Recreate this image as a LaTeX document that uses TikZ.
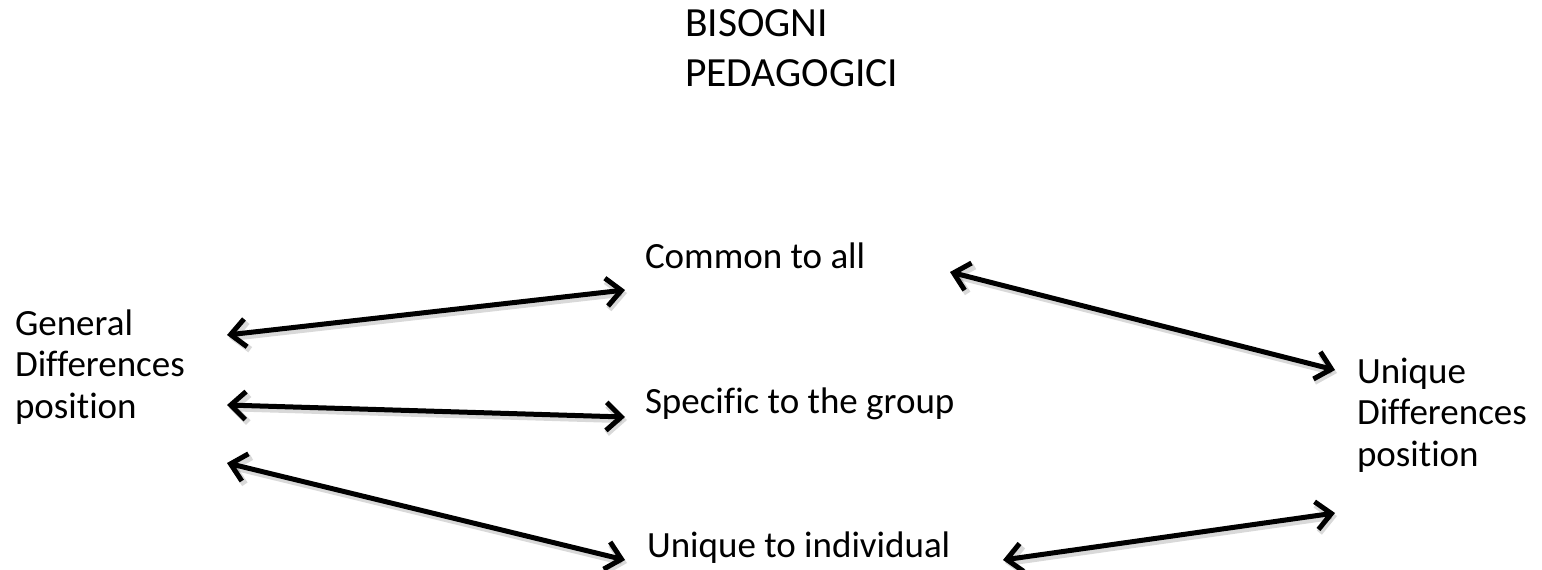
\documentclass[tikz,border=0pt]{standalone}
\usepackage{fontspec}
\setmainfont{Carlito}[Ligatures=NoCommon]
\usetikzlibrary{arrows.meta}
\tikzset{
  lbl/.style={anchor=base west, inner sep=0pt, outer sep=0pt, align=left,
    font=\fontsize{37}{41.5}\selectfont},
  ttl/.style={lbl, font=\fontsize{41.5}{50}\selectfont},
  link/.style={line width=5pt, line cap=round, line join=round,
    {Straight Barb[length=15pt,width=28pt]}-{Straight Barb[length=15pt,width=28pt]}},
  shade/.style={link, draw=black, opacity=0.15, line width=6.5pt}
}
\begin{document}
\begin{tikzpicture}[x=1pt,y=-1pt]
\useasboundingbox (0,0) rectangle (1542,570);
% texts (anchored at the baseline of their last line)
\node[ttl] (title) at (685,86.5) {BISOGNI\\PEDAGOGICI};
\node[lbl] (common) at (645,268) {Common to all};
\node[lbl] (specific) at (645,413) {Specific to the group};
\node[lbl] (uniqueind) at (647,557) {Unique to individual};
\node[lbl] (general) at (15,418) {General\\Differences\\position};
\node[lbl] (uniquepos) at (1357,466) {Unique\\Differences\\position};
% arrow end points
\coordinate (g1) at (227,335);
\coordinate (c1) at (625,290);
\coordinate (g2) at (227,405);
\coordinate (s1) at (625,417);
\coordinate (g3) at (227,463);
\coordinate (i1) at (625,560);
\coordinate (c2) at (950,272);
\coordinate (u1) at (1335,370);
\coordinate (i2) at (1003,560);
\coordinate (u2) at (1335,513);
% shadows
\foreach \a/\b in {g1/c1,g2/s1,g3/i1,c2/u1,i2/u2}{
  \draw[shade] ([shift={(2,3)}]\a) -- ([shift={(2,3)}]\b);
}
% arrows
\draw[link] (g1) -- (c1);
\draw[link] (g2) -- (s1);
\draw[link] (g3) -- (i1);
\draw[link] (c2) -- (u1);
\draw[link] (i2) -- (u2);
\end{tikzpicture}
\end{document}
